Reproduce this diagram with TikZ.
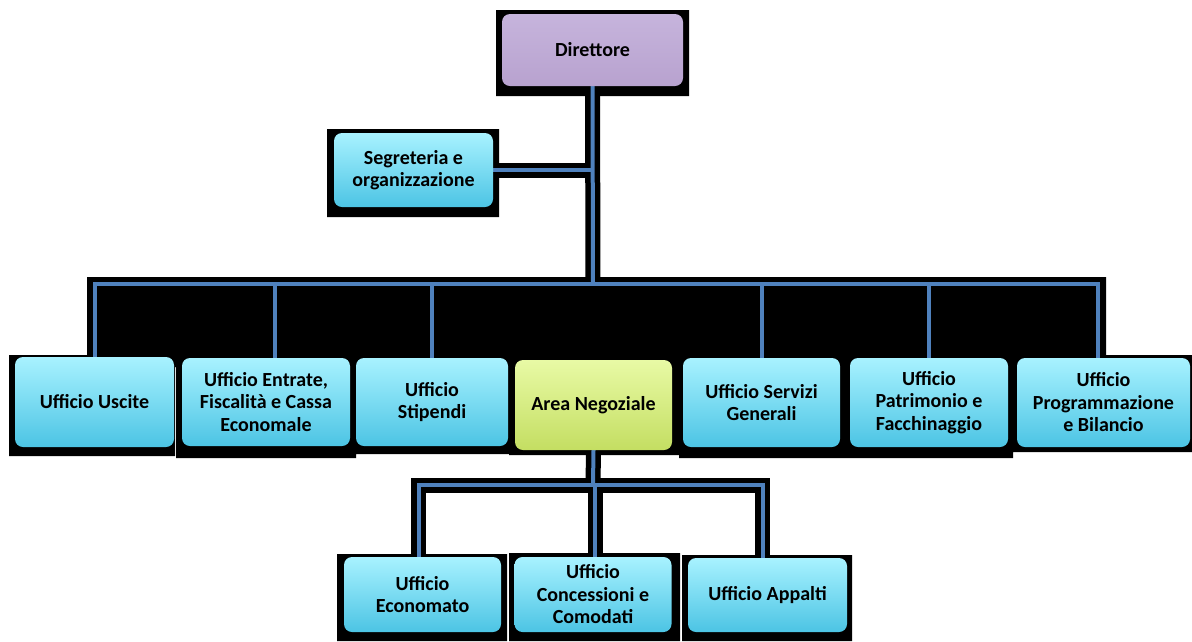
\documentclass[tikz,border=0pt]{standalone}
\usepackage{fontspec}
\setmainfont{Carlito}
\usepackage{tikz}

\definecolor{conblue}{RGB}{79,129,189}
\definecolor{cyantop}{RGB}{168,242,255}
\definecolor{cyanbot}{RGB}{76,196,228}
\definecolor{liltop}{RGB}{198,180,220}
\definecolor{lilbot}{RGB}{184,162,207}
\definecolor{greentop}{RGB}{232,250,165}
\definecolor{greenbot}{RGB}{196,222,98}

\pgfdeclarelayer{back}
\pgfsetlayers{back,main}

\tikzset{
  office/.style={rounded corners=8pt, top color=cyantop, bottom color=cyanbot,
    align=center, inner sep=2pt,
    font=\bfseries\fontsize{20}{22.5}\selectfont},
  connback/.style={black, line width=15pt},
  connfront/.style={conblue, line width=4pt}
}

\begin{document}
\begin{tikzpicture}[x=1pt, y=-1pt]
            \useasboundingbox (0,0) rectangle (1192,641);
            % boxes
            \node[office, top color=liltop, bottom color=lilbot,
                  minimum width=181, minimum height=72] (dir) at (592.5,50) {Direttore};
            \node[office, minimum width=159, minimum height=74] (seg) at (413.5,170) {Segreteria e\\organizzazione};
            \node[office, minimum width=159, minimum height=90] (usc) at (94.5,402) {Ufficio Uscite};
            \node[office, minimum width=168, minimum height=88] (ent) at (266,402) {Ufficio Entrate,\\Fiscalità e Cassa\\Economale};
            \node[office, minimum width=152, minimum height=88] (sti) at (432,402) {Ufficio\\Stipendi};
            \node[office, top color=greentop, bottom color=greenbot,
                  minimum width=157, minimum height=90] (area) at (593.5,405) {Area Negoziale};
            \node[office, minimum width=157, minimum height=89] (serv) at (761.5,402.5) {Ufficio Servizi\\Generali};
            \node[office, minimum width=158, minimum height=89] (patr) at (929,402.5) {Ufficio\\Patrimonio e\\Facchinaggio};
            \node[office, minimum width=173, minimum height=89] (prog) at (1103.5,402.5) {Ufficio\\Programmazione\\e Bilancio};
            \node[office, minimum width=157, minimum height=75] (econ) at (422.5,594.5) {Ufficio\\Economato};
            \node[office, minimum width=157, minimum height=75] (conc) at (593,594.5) {Ufficio\\Concessioni e\\Comodati};
            \node[office, minimum width=159, minimum height=74] (app) at (767.5,595) {Ufficio Appalti};
            \begin{pgfonlayer}{back}
            \fill[white] (0,0) rectangle (1192,641);
            % black backing
            \fill[black] (496,10) rectangle (689,96)
                  (327,129) rectangle (499,217)
                  (87,277) rectangle (1106,367)
                  (9,355) rectangle (175,456)
                  (176,355) rectangle (356,458)
                  (356,355) rectangle (510,454)
                  (509,355) rectangle (679,455)
                  (679,355) rectangle (843,458)
                  (843,355) rectangle (1013,458)
                  (1013,355) rectangle (1192,452)
                  (337,554) rectangle (507,641)
                  (509,553) rectangle (680,641)
                  (682,555) rectangle (852,641);
            % connectors: black bands
            \coordinate (bus) at (593,284);
            \coordinate (sub) at (593,485);
            \draw[connback] (seg.east) -- (seg.east -| bus);
            \draw[connback] (dir.south) -- (bus);
            \foreach \n/\dx in {usc/0, ent/9, sti/0, serv/0, patr/0, prog/-6}
              \draw[connback] (bus) -| ([xshift=\dx]\n.north);
            \draw[connback] (area.south) -- (sub);
            \foreach \n/\dx in {econ/-4, conc/2, app/-5}
              \draw[connback] (sub) -| ([xshift=\dx]\n.north);
            % connectors: blue core
            \draw[connfront] (seg.east) -- (seg.east -| bus);
            \draw[connfront] (dir.south) -- (bus);
            \foreach \n/\dx in {usc/0, ent/9, sti/0, serv/0, patr/0, prog/-6}
              \draw[connfront] (bus) -| ([xshift=\dx]\n.north);
            \draw[connfront] (area.south) -- (sub);
            \foreach \n/\dx in {econ/-4, conc/2, app/-5}
              \draw[connfront] (sub) -| ([xshift=\dx]\n.north);
            \end{pgfonlayer}
\end{tikzpicture}
\end{document}
